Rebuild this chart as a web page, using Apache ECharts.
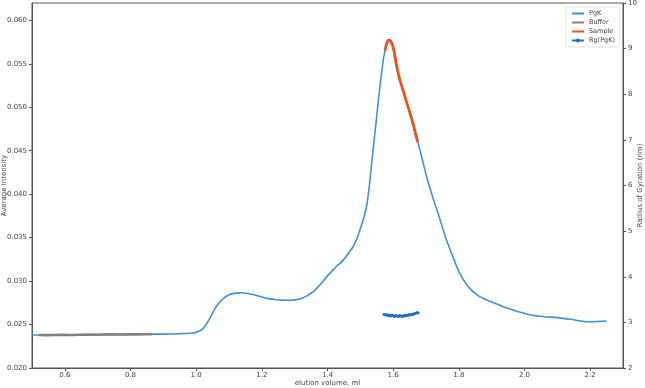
<!DOCTYPE html>
<html>
<head>
<meta charset="utf-8">
<script src="https://cdn.jsdelivr.net/npm/echarts@6/dist/echarts.min.js"></script>
<style>
html,body{margin:0;padding:0;background:#fff;}
#chart{width:645px;height:388px;}
</style>
</head>
<body>
<div id="chart"></div>
<script>
// ---- Data ----
const pgkX = [0.50,0.55,0.60,0.65,0.70,0.75,0.80,0.85,0.90,0.95,0.98,1.00,1.02,1.04,1.06,1.08,1.10,1.12,1.14,1.16,1.18,1.20,1.22,1.24,1.26,1.28,1.30,1.32,1.34,1.36,1.38,1.40,1.41,1.42,1.43,1.44,1.45,1.46,1.48,1.50,1.52,1.54,1.56,1.57,1.575,1.58,1.585,1.59,1.60,1.61,1.62,1.64,1.66,1.68,1.70,1.72,1.74,1.76,1.78,1.80,1.82,1.84,1.86,1.88,1.90,1.94,1.98,2.02,2.06,2.10,2.14,2.18,2.20,2.22,2.25];
const pgkY = [0.0238,0.0238,0.0238,0.0238,0.02385,0.02385,0.02388,0.0239,0.0239,0.02395,0.0240,0.0241,0.0245,0.0256,0.0270,0.0279,0.02843,0.02862,0.02866,0.02855,0.0284,0.02818,0.02798,0.02788,0.02781,0.0278,0.02784,0.0280,0.02835,0.0289,0.0297,0.0306,0.0310,0.0314,0.0318,0.0321,0.0325,0.0330,0.0341,0.0360,0.0388,0.0455,0.0525,0.0555,0.0565,0.0573,0.0577,0.0577,0.0569,0.0549,0.0532,0.0507,0.0482,0.0453,0.0423,0.0397,0.0374,0.0350,0.0330,0.0311,0.0298,0.0289,0.0283,0.0279,0.0276,0.0270,0.0265,0.0261,0.0259,0.0258,0.0256,0.02535,0.0253,0.02535,0.0254];

const bufferX = [0.52,0.545,0.57,0.595,0.62,0.645,0.67,0.695,0.72,0.745,0.77,0.795,0.82,0.845,0.865];
const bufferY = [0.0238,0.02378,0.0238,0.02382,0.0238,0.02383,0.02385,0.02383,0.02385,0.02387,0.02385,0.02388,0.02387,0.02388,0.0239];

const sampleX = [1.575,1.58,1.585,1.59,1.60,1.61,1.62,1.63,1.64,1.65,1.66,1.67,1.675];
const sampleY = [0.0565,0.0573,0.0577,0.0577,0.0569,0.0549,0.0532,0.0520,0.0507,0.0495,0.0482,0.0467,0.0460];

const rgX = [1.572,1.576,1.580,1.584,1.588,1.592,1.596,1.600,1.604,1.608,1.612,1.616,1.620,1.624,1.628,1.632,1.636,1.640,1.644,1.648,1.652,1.656,1.660,1.664,1.668,1.672,1.676];
const rgY = [3.17,3.16,3.17,3.15,3.16,3.14,3.16,3.15,3.13,3.15,3.14,3.13,3.15,3.14,3.13,3.15,3.14,3.16,3.15,3.17,3.16,3.18,3.17,3.19,3.20,3.21,3.21];

const xTicks = [0.6,0.8,1.0,1.2,1.4,1.6,1.8,2.0,2.2];
const yLeftTicks = [0.020,0.025,0.030,0.035,0.040,0.045,0.050,0.055,0.060];
const yRightTicks = [2,3,4,5,6,7,8,9,10];

const seriesNames = ['PgK','Buffer','Sample','Rg(PgK)'];
const axisTitles = {x:'elution volume, ml', yLeft:'Average Intensity', yRight:'Radius of Gyration (nm)'};

// ---- Build ----
const zip = (xs, ys) => xs.map((x, i) => [x, ys[i]]);
const FONT = 'DejaVu Sans';
const axisCol = '#555';
const labelStyle = {fontSize: 7, color: '#444', fontFamily: FONT};
const nameStyle = {fontSize: 7, color: '#444', fontFamily: FONT};
const hiddenMarker = {color: 'rgba(0,0,0,0)', borderWidth: 0, opacity: 0};

const chart = echarts.init(document.getElementById('chart'), null, {renderer: 'canvas'});
chart.setOption({
  animation: false,
  backgroundColor: '#fff',
  textStyle: {fontFamily: FONT},
  grid: {left: 32, right: 22, top: 3, bottom: 20, show: true, borderColor: axisCol, borderWidth: 1, containLabel: false, outerBoundsMode: 'none'},
  legend: {
    orient: 'vertical', right: 25, top: 7,
    data: [
      {name: seriesNames[0], itemStyle: hiddenMarker},
      {name: seriesNames[1], itemStyle: hiddenMarker},
      {name: seriesNames[2], itemStyle: hiddenMarker},
      {name: seriesNames[3]}
    ],
    itemWidth: 12, itemHeight: 5, itemGap: 2,
    padding: [3, 5, 3, 5],
    borderColor: '#ddd', borderWidth: 0.8, borderRadius: 2,
    backgroundColor: '#fff',
    textStyle: {fontSize: 6.5, color: '#444', fontFamily: FONT, lineHeight: 7}
  },
  xAxis: {
    type: 'value', min: 0.5, max: 2.3,
    name: axisTitles.x, nameLocation: 'middle', nameGap: 12, nameMoveOverlap: false,
    nameTextStyle: nameStyle,
    axisLine: {show: true, lineStyle: {color: axisCol, width: 1}},
    axisTick: {show: true, length: 3, customValues: xTicks, lineStyle: {color: axisCol}},
    axisLabel: Object.assign({customValues: xTicks, margin: 4, formatter: v => Number(v).toFixed(1)}, labelStyle),
    splitLine: {show: false}
  },
  yAxis: [{
    type: 'value', min: 0.020, max: 0.062, position: 'left',
    name: axisTitles.yLeft, nameLocation: 'middle', nameGap: 24, nameRotate: 90, nameMoveOverlap: false,
    nameTextStyle: nameStyle,
    axisLine: {show: true, lineStyle: {color: axisCol, width: 1}},
    axisTick: {show: true, length: 3, customValues: yLeftTicks, lineStyle: {color: axisCol}},
    axisLabel: Object.assign({customValues: yLeftTicks, margin: 5, formatter: v => Number(v).toFixed(3)}, labelStyle),
    splitLine: {show: false}
  }, {
    type: 'value', min: 2, max: 10, interval: 1, position: 'right',
    name: axisTitles.yRight, nameLocation: 'middle', nameGap: 14, nameRotate: 90, nameMoveOverlap: false,
    nameTextStyle: nameStyle,
    axisLine: {show: true, lineStyle: {color: axisCol, width: 1}},
    axisTick: {show: true, length: 3, customValues: yRightTicks, lineStyle: {color: axisCol}},
    axisLabel: Object.assign({customValues: yRightTicks, margin: 5, formatter: v => String(Math.round(v))}, labelStyle),
    splitLine: {show: false}
  }],
  series: [{
    name: seriesNames[0], type: 'line', yAxisIndex: 0, data: zip(pgkX, pgkY),
    symbol: 'none', smooth: 0.25, lineStyle: {color: '#3a93d6', width: 1.6}, itemStyle: {color: '#3a93d6'}, z: 2
  }, {
    name: seriesNames[1], type: 'line', yAxisIndex: 0, data: zip(bufferX, bufferY),
    symbol: 'none', lineStyle: {color: '#808080', width: 2.6}, itemStyle: {color: '#808080'}, z: 3
  }, {
    name: seriesNames[2], type: 'line', yAxisIndex: 0, data: zip(sampleX, sampleY),
    symbol: 'none', smooth: 0.25, lineStyle: {color: '#e8531d', width: 2.8}, itemStyle: {color: '#e8531d'}, z: 4
  }, {
    name: seriesNames[3], type: 'line', yAxisIndex: 1, data: zip(rgX, rgY),
    symbol: 'circle', symbolSize: 3, showSymbol: true,
    lineStyle: {color: '#1f6fbf', width: 1.5}, itemStyle: {color: '#1f6fbf'}, z: 5
  }]
});
</script>
</body>
</html>
